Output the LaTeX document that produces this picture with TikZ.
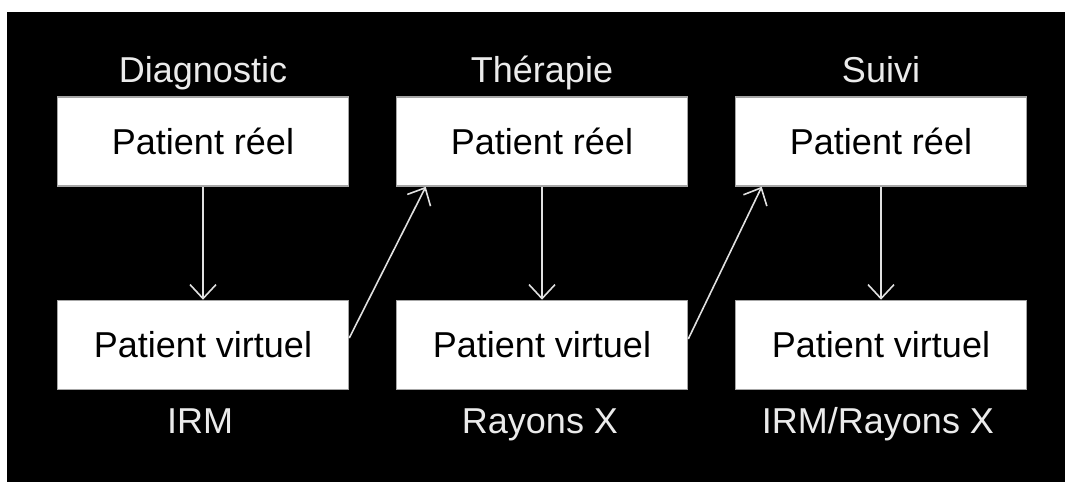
\documentclass[tikz,border=0pt]{standalone}
\usepackage{fontspec}
\setmainfont{Liberation Sans}
\usetikzlibrary{arrows.meta,calc}
\begin{document}
\begin{tikzpicture}[x=1pt,y=-1pt,
  box/.style={draw=black!35,line width=1.5pt,fill=white,minimum width=291pt,minimum height=89pt,inner sep=0pt,
    font=\fontsize{36}{40}\selectfont,text=black},
  lab/.style={anchor=base,text=white!92!black,font=\fontsize{36}{40}\selectfont,inner sep=0pt},
  conn/.style={draw=white!88!black,line width=1.6pt,-{Straight Barb[length=14pt,width=26pt,line width=1.6pt]}}]
\useasboundingbox (0,0) rectangle (1065,482);
\fill[white] (0,0) rectangle (1065,482);
\fill[black] (7,12) rectangle (1065,482);
\node[box] (r1) at (203,141.5) {Patient réel};
\node[box] (r2) at (542,141.5) {Patient réel};
\node[box] (r3) at (881,141.5) {Patient réel};
\node[box] (v1) at (203,345) {Patient virtuel};
\node[box] (v2) at (542,345) {Patient virtuel};
\node[box] (v3) at (881,345) {Patient virtuel};
\node[lab] (t1) at (203,82) {Diagnostic};
\node[lab] (t2) at (542,82) {Thérapie};
\node[lab] (t3) at (881,82) {Suivi};
\node[lab] (b1) at (200,433) {IRM};
\node[lab] (b2) at (540,433) {Rayons X};
\node[lab] (b3) at (878,433) {IRM/Rayons X};
\coordinate (e2) at ($(r2.south west)+(30,0)$);
\coordinate (e3) at ($(r3.south west)+(27,0)$);
\draw[conn] (r1.south) -- (v1.north);
\draw[conn] (r2.south) -- (v2.north);
\draw[conn] (r3.south) -- (v3.north);
\draw[conn] ($(v1.east)+(0,-7)$) -- (e2);
\draw[conn] ($(v2.east)+(0,-6)$) -- (e3);
\end{tikzpicture}
\end{document}
